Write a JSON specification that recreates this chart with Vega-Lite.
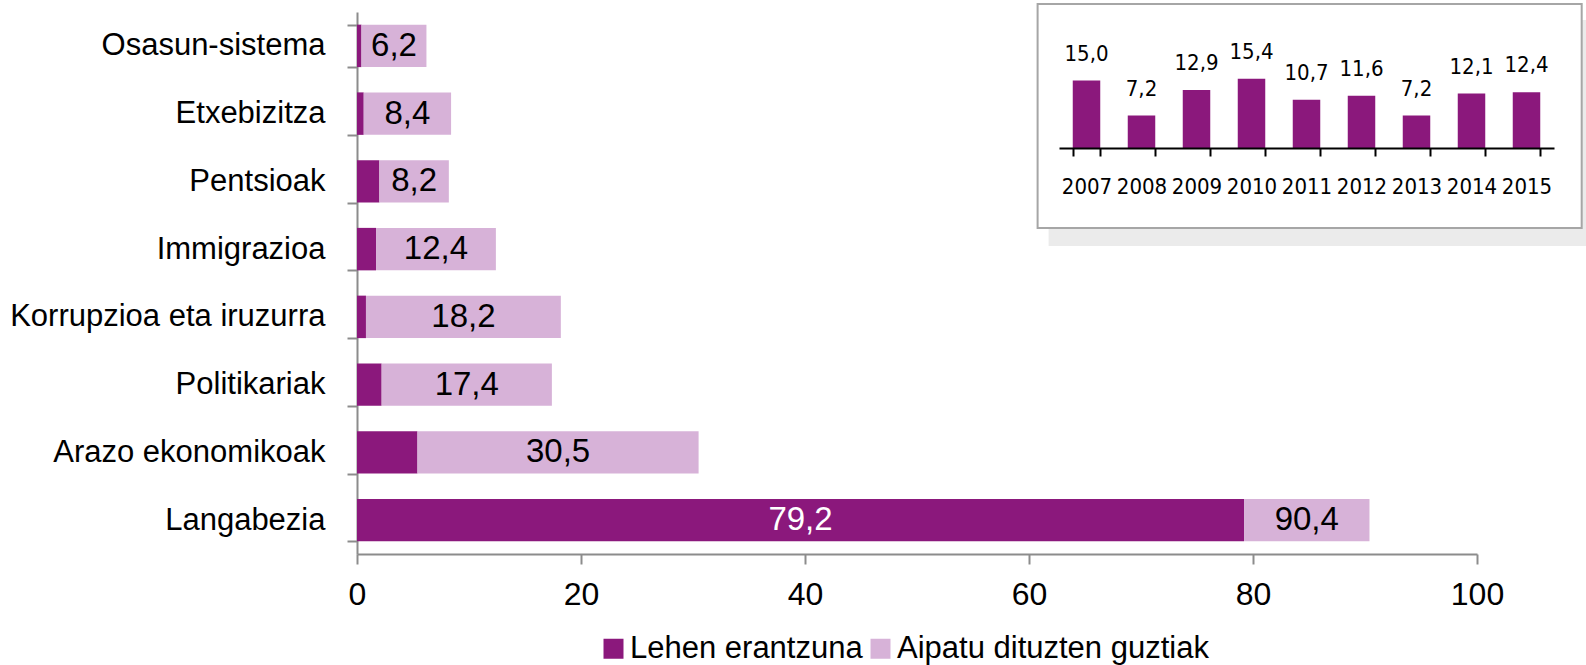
{
  "$schema": "https://vega.github.io/schema/vega-lite/v6.json",
  "width": 1229,
  "height": 554,
  "autosize": {"type": "none"},
  "padding": {"left": 357, "top": 0, "right": 0, "bottom": 111},
  "background": "white",
  "config": {
    "view": {"stroke": null},
    "font": "Liberation Sans",
    "locale": {"number": {"decimal": ",", "thousands": ".", "grouping": [3], "currency": ["", " €"]}}
  },
  "layer": [
    {
      "data": {"values": [
        {"cat": "Osasun-sistema", "series": "Lehen erantzuna", "seg": 0.4, "value": 0.4},
        {"cat": "Osasun-sistema", "series": "Aipatu dituzten guztiak", "seg": 5.8, "value": 6.2},
        {"cat": "Etxebizitza", "series": "Lehen erantzuna", "seg": 0.6, "value": 0.6},
        {"cat": "Etxebizitza", "series": "Aipatu dituzten guztiak", "seg": 7.8, "value": 8.4},
        {"cat": "Pentsioak", "series": "Lehen erantzuna", "seg": 2.0, "value": 2.0},
        {"cat": "Pentsioak", "series": "Aipatu dituzten guztiak", "seg": 6.2, "value": 8.2},
        {"cat": "Immigrazioa", "series": "Lehen erantzuna", "seg": 1.7, "value": 1.7},
        {"cat": "Immigrazioa", "series": "Aipatu dituzten guztiak", "seg": 10.7, "value": 12.4},
        {"cat": "Korrupzioa eta iruzurra", "series": "Lehen erantzuna", "seg": 0.8, "value": 0.8},
        {"cat": "Korrupzioa eta iruzurra", "series": "Aipatu dituzten guztiak", "seg": 17.4, "value": 18.2},
        {"cat": "Politikariak", "series": "Lehen erantzuna", "seg": 2.2, "value": 2.2},
        {"cat": "Politikariak", "series": "Aipatu dituzten guztiak", "seg": 15.2, "value": 17.4},
        {"cat": "Arazo ekonomikoak", "series": "Lehen erantzuna", "seg": 5.4, "value": 5.4},
        {"cat": "Arazo ekonomikoak", "series": "Aipatu dituzten guztiak", "seg": 25.1, "value": 30.5},
        {"cat": "Langabezia", "series": "Lehen erantzuna", "seg": 79.2, "value": 79.2},
        {"cat": "Langabezia", "series": "Aipatu dituzten guztiak", "seg": 11.2, "value": 90.4}
      ]},
      "layer": [
        {
          "mark": {"type": "bar"},
          "encoding": {
            "y": {
              "field": "cat", "type": "nominal", "sort": null,
              "scale": {"range": [12, 554], "paddingInner": 0.373, "paddingOuter": 0.1865},
              "axis": {
                "title": null, "tickBand": "extent", "tickSize": 10, "tickWidth": 2, "tickColor": "#8c8c8c",
                "domainColor": "#8c8c8c", "domainWidth": 2, "labelFontSize": 31, "labelColor": "#000000",
                "labelPadding": 22, "labelLimit": 500, "labelFont": "Liberation Sans"
              }
            },
            "x": {
              "field": "seg", "type": "quantitative", "stack": "zero",
              "scale": {"domain": [0, 100], "range": [0, 1120], "nice": false},
              "axis": {
                "title": null, "values": [0, 20, 40, 60, 80, 100], "grid": false, "tickSize": 10, "tickWidth": 2,
                "tickColor": "#8c8c8c", "domainColor": "#8c8c8c", "domainWidth": 2, "labelFontSize": 32,
                "labelColor": "#000000", "labelPadding": 15, "labelFlush": false, "format": "d"
              }
            },
            "color": {
              "field": "series", "type": "nominal",
              "scale": {"domain": ["Lehen erantzuna", "Aipatu dituzten guztiak"], "range": ["#8b187c", "#d7b2d8"]},
              "legend": {
                "title": null, "orient": "none", "legendX": 241, "legendY": 633, "direction": "horizontal",
                "symbolType": "square", "symbolSize": 400, "symbolStrokeWidth": 0, "labelFontSize": 31,
                "labelColor": "#000000", "labelOffset": 1, "columnPadding": 2, "labelLimit": 600
              }
            },
            "order": {"field": "series", "sort": "descending"}
          }
        },
        {
          "mark": {"type": "text", "fontSize": 33, "baseline": "middle", "align": "center"},
          "encoding": {
            "y": {"field": "cat", "type": "nominal", "sort": null},
            "x": {"field": "seg", "type": "quantitative", "stack": "zero", "bandPosition": 0.5},
            "detail": {"field": "series"},
            "order": {"field": "series", "sort": "descending"},
            "text": {
              "condition": {"test": "datum.series === 'Lehen erantzuna' && datum.value < 50", "value": ""},
              "field": "value", "type": "quantitative", "format": ".1f"
            },
            "color": {"condition": {"test": "datum.series === 'Lehen erantzuna'", "value": "white"}, "value": "black"}
          }
        }
      ]
    },
    {
      "layer": [
        {
          "data": {"values": [
            {"year": "2007", "v": 15.0},
            {"year": "2008", "v": 7.2},
            {"year": "2009", "v": 12.9},
            {"year": "2010", "v": 15.4},
            {"year": "2011", "v": 10.7},
            {"year": "2012", "v": 11.6},
            {"year": "2013", "v": 7.2},
            {"year": "2014", "v": 12.1},
            {"year": "2015", "v": 12.4}
          ]},
          "layer": [
            {
              "mark": {"type": "bar", "color": "#8b187c"},
              "encoding": {
                "x": {
                  "field": "year", "type": "ordinal",
                  "scale": {"type": "band", "range": [702, 1197], "paddingInner": 0.5, "paddingOuter": 0.25},
                  "axis": {
                    "title": null, "orient": "bottom", "offset": -406, "zindex": 1, "tickBand": "extent",
                    "tickSize": 8, "tickWidth": 2, "tickColor": "#000000", "domainColor": "#000000",
                    "domainWidth": 2, "labelFont": "DejaVu Sans Condensed, Liberation Sans", "labelFontSize": 22,
                    "labelColor": "#000000", "labelPadding": 20, "labelAngle": 0
                  }
                },
                "y": {
                  "field": "v", "type": "quantitative",
                  "scale": {"domain": [0, 16], "range": [148, 76], "nice": false, "zero": true},
                  "axis": null
                }
              }
            },
            {
              "mark": {"type": "text", "font": "DejaVu Sans Condensed, Liberation Sans", "fontSize": 22, "baseline": "alphabetic", "dy": -20, "color": "#000000"},
              "encoding": {
                "x": {"field": "year", "type": "ordinal"},
                "y": {"field": "v", "type": "quantitative"},
                "text": {"field": "v", "type": "quantitative", "format": ".1f"}
              }
            }
          ]
        },
        {
          "data": {"values": [{}]},
          "mark": {"type": "rect", "fill": "#ebebeb"},
          "encoding": {
            "x": {"datum": "2007", "type": "ordinal", "bandPosition": -0.878},
            "x2": {"datum": "2015", "bandPosition": 3.2},
            "y": {"datum": -17.78, "type": "quantitative"},
            "y2": {"datum": -21.8}
          }
        },
        {
          "data": {"values": [{}]},
          "mark": {"type": "rect", "fill": "#ebebeb"},
          "encoding": {
            "x": {"datum": "2015", "type": "ordinal", "bandPosition": 2.507},
            "x2": {"datum": "2015", "bandPosition": 3.2},
            "y": {"datum": 28.44, "type": "quantitative"},
            "y2": {"datum": -17.78}
          }
        },
        {
          "data": {"values": [{}]},
          "mark": {"type": "rect", "fill": "white", "fillOpacity": 0, "stroke": "#a6a6a6", "strokeWidth": 2},
          "encoding": {
            "x": {"datum": "2007", "type": "ordinal", "bandPosition": -1.278},
            "x2": {"datum": "2015", "bandPosition": 2.507},
            "y": {"datum": 32, "type": "quantitative"},
            "y2": {"datum": -17.78}
          }
        }
      ]
    }
  ],
  "resolve": {
    "scale": {"x": "independent", "y": "independent", "color": "independent"},
    "axis": {"x": "independent", "y": "independent"}
  }
}
